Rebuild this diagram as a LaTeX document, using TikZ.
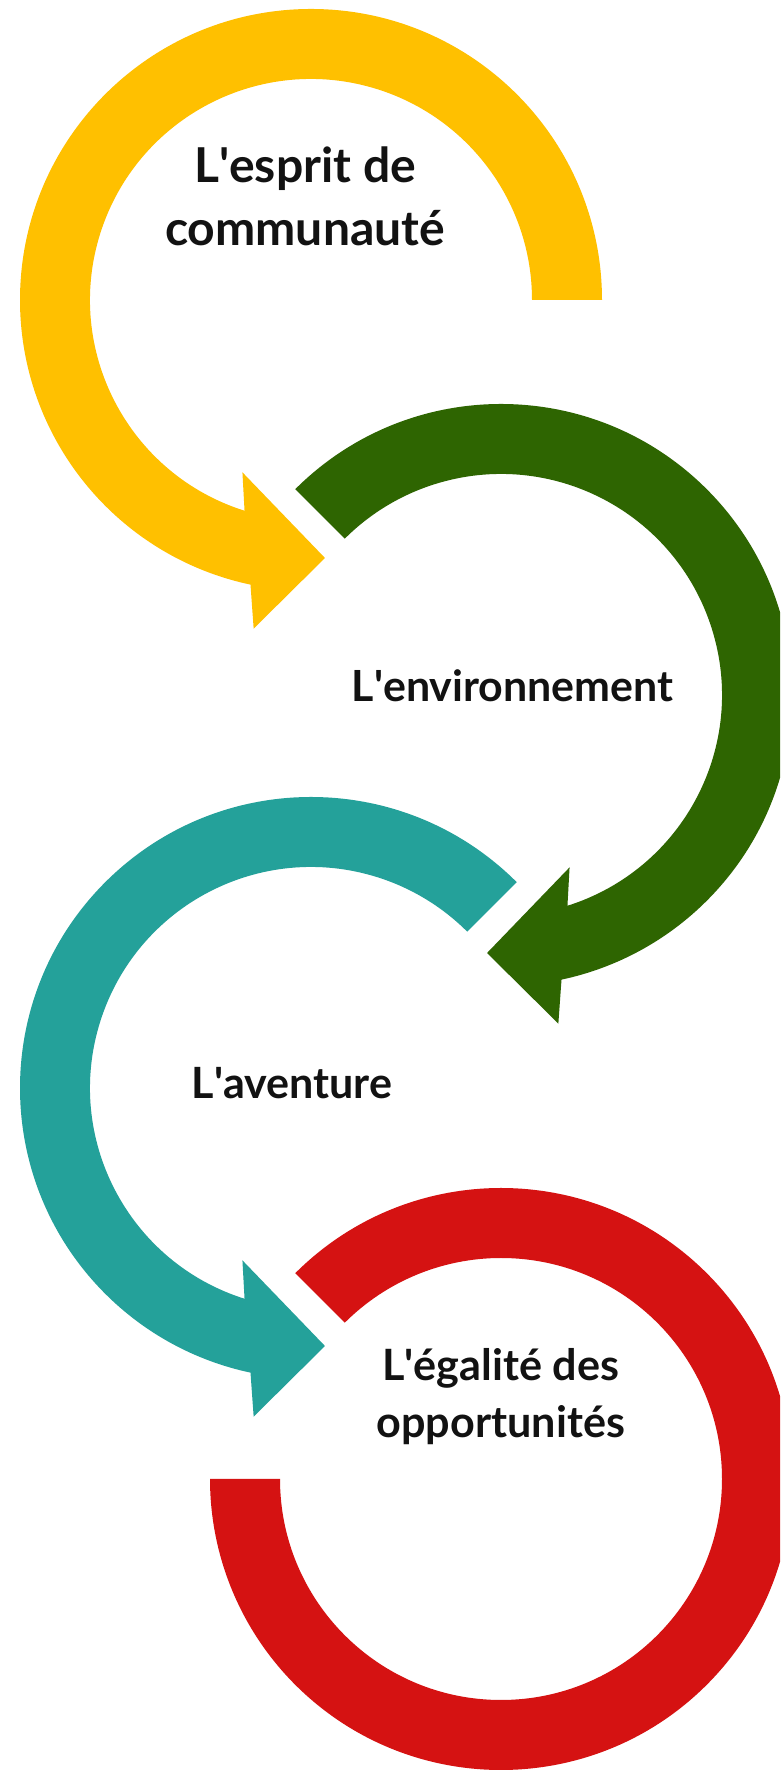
\documentclass[tikz,border=0pt]{standalone}
\usepackage{fontspec}
\setmainfont{Lato}
\definecolor{cyellow}{HTML}{FFC000}
\definecolor{cgreen}{HTML}{2E6501}
\definecolor{cteal}{HTML}{24A19A}
\definecolor{cred}{HTML}{D51212}
\definecolor{ctext}{HTML}{121212}
\newcommand\ap{\textquotesingle}
\newlength\labwd
\newcommand\fitsize[3]{\settowidth\labwd{\fontsize{10}{12}\selectfont\bfseries #2}\pgfmathsetmacro#1{10*#3/\labwd}}
\tikzset{
  pics/circarrow/.style args={#1/#2}{code={
    \fill[#2] (#1:291) arc[start angle=#1, end angle=258, radius=291]
      -- (260.1:333.6) -- (273.1:258.4) -- (248.3:185.5) -- (252.5:221)
      arc[start angle=252.5, end angle=#1, radius=221] -- cycle;
  }},
  lab/.style={text=ctext, inner sep=0pt, outer sep=0pt, anchor=base, align=center}
}
\begin{document}
\fitsize{\fsA}{communauté}{280}%
\fitsize{\fsB}{L\ap environnement}{321.6}%
\fitsize{\fsC}{L\ap aventure}{200.6}%
\fitsize{\fsD}{opportunités}{248.3}%
\begin{tikzpicture}[x=1pt,y=1pt]
\useasboundingbox (0,0) rectangle (780,1770);
\fill[white] (0,0) rectangle (780,1770);
\clip (0,0) rectangle (780,1770);
% arrows
\pic (ya) at (311,1470) {circarrow=0/cyellow};
\pic[xscale=-1] (ga) at (501,1075) {circarrow=45/cgreen};
\pic (ta) at (311,682) {circarrow=45/cteal};
% red ring
\begin{scope}[shift={(501,291)}]
\fill[cred] (135:291) arc[start angle=135, end angle=-180, radius=291]
  -- (180:221) arc[start angle=-180, end angle=135, radius=221] -- cycle;
\end{scope}
% labels
\node[lab, font=\fontsize{\fsA}{63}\selectfont\bfseries] (esprit) at (305,1524.3) {L\ap esprit de\\communauté};
\node[lab, font=\fontsize{\fsB}{60}\selectfont\bfseries] (env) at (512.5,1068) {L\ap environnement};
\node[lab, font=\fontsize{\fsC}{60}\selectfont\bfseries] (aventure) at (292,671) {L\ap aventure};
\node[lab, font=\fontsize{\fsD}{56.5}\selectfont\bfseries] (egalite) at (500.8,332.7) {L\ap égalité des\\opportunités};
\end{tikzpicture}
\end{document}
